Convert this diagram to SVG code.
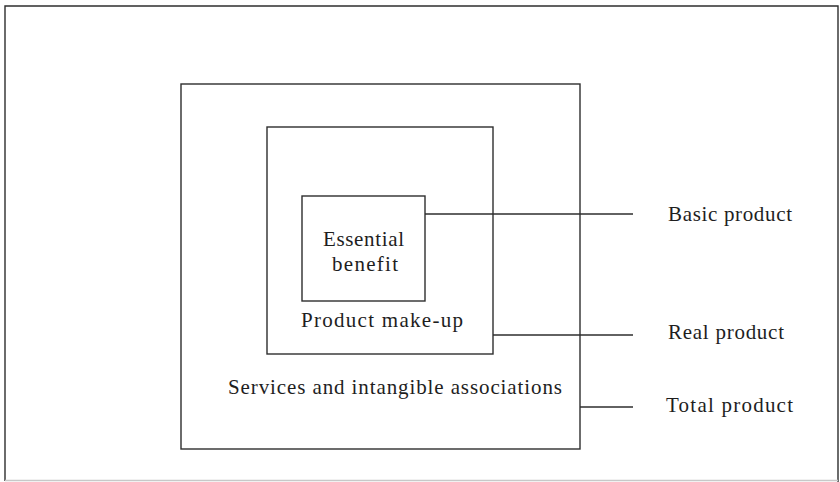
<svg xmlns="http://www.w3.org/2000/svg" width="840" height="482" viewBox="0 0 840 482">
<style>
.box{fill:none;stroke:#2e2e2e;stroke-width:1.4}
.ln{stroke:#2e2e2e;stroke-width:1.4;fill:none}
.t{font-family:"Liberation Serif","Times New Roman",serif;font-size:21px;fill:#1e1e1e}
</style>
<rect width="840" height="482" fill="#ffffff"/>
<g id="frame">
<path d="M5 481 L5 6 L838 6 L838 482" class="ln" stroke="#555"/>
<line x1="5" y1="480.5" x2="838" y2="480.5" stroke="#c8c8c8" stroke-width="1.5"/>
</g>
<g id="total">
<rect class="box" x="181" y="84" width="399" height="365"/>
<text class="t" x="228" y="394" textLength="334" lengthAdjust="spacing">Services and intangible associations</text>
</g>
<g id="real">
<rect class="box" x="267" y="127" width="226" height="227"/>
<text class="t" x="301" y="327" textLength="162" lengthAdjust="spacing">Product make-up</text>
</g>
<g id="basic">
<rect class="box" x="302" y="196" width="123" height="105"/>
<text class="t" x="323" y="246" textLength="81" lengthAdjust="spacing">Essential</text>
<text class="t" x="332" y="271" textLength="66" lengthAdjust="spacing">benefit</text>
</g>
<g id="connectors">
<line class="ln" x1="425" y1="214" x2="633" y2="214"/>
<line class="ln" x1="493" y1="335" x2="633" y2="335"/>
<line class="ln" x1="580" y1="407" x2="633" y2="407"/>
</g>
<g id="label-basic"><text class="t" x="668" y="221" textLength="124" lengthAdjust="spacing">Basic product</text></g>
<g id="label-real"><text class="t" x="668" y="339" textLength="116" lengthAdjust="spacing">Real product</text></g>
<g id="label-total"><text class="t" x="666" y="412" textLength="127" lengthAdjust="spacing">Total product</text></g>
</svg>
